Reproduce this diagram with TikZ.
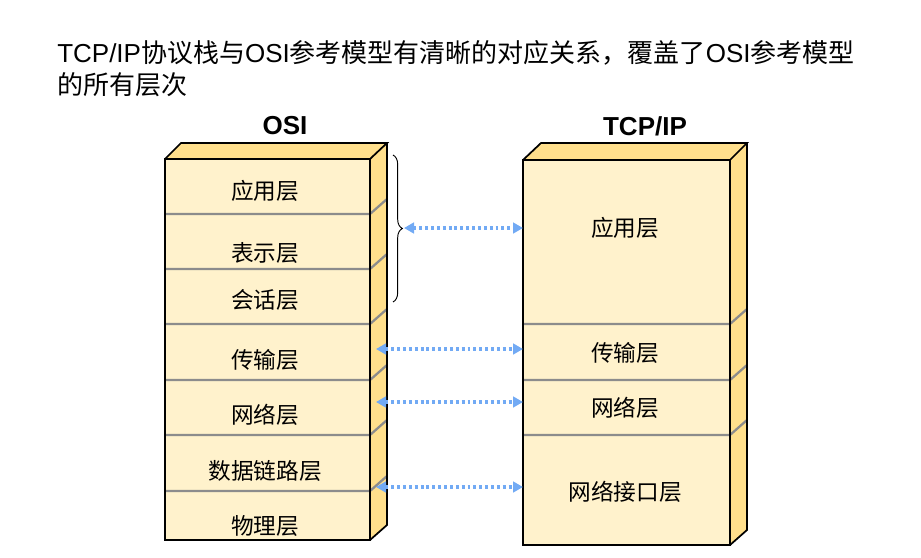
\documentclass[tikz,border=0pt]{standalone}
\usepackage{fontspec}
\setmainfont{Liberation Sans}
\newfontfamily\cjk{Noto Sans CJK SC}
\usetikzlibrary{arrows.meta,decorations.pathreplacing}
\definecolor{facec}{HTML}{FFF2CC}
\definecolor{sidec}{HTML}{FFDF8C}
\definecolor{linec}{HTML}{8C8C8C}
\definecolor{arrc}{HTML}{72AAF4}
\begin{document}
\begin{tikzpicture}[x=0.75pt,y=-0.75pt,
  outl/.style={draw=black,line width=1.3pt,line join=miter},
  sepline/.style={draw=linec,line width=1.7pt},
  lab/.style={font=\cjk\fontsize{17}{20}\selectfont,inner sep=0pt},
  ttl/.style={font=\bfseries\fontsize{19.5}{22}\selectfont,inner sep=0pt},
  hdr/.style={font=\fontsize{19.5}{22}\selectfont,inner sep=0pt,anchor=west},
  link/.style={draw=arrc,line width=2.4pt,dash pattern=on 2.2pt off 2.2pt,
    {Triangle[length=7.5pt,width=8pt]}-{Triangle[length=7.5pt,width=8pt]}}]
\useasboundingbox (0,0) rectangle (921,557);

% heading
\node[hdr] (h1) at (57,53) {TCP/IP{\cjk 协议栈与}OSI{\cjk 参考模型有清晰的对应关系，覆盖了}OSI{\cjk 参考模型}};
\node[hdr] (h2) at (57,85) {\cjk 的所有层次};

% titles
\node[ttl] (tosi) at (285,126) {OSI};
\node[ttl] (ttcp) at (645,126) {TCP/IP};

% OSI stack
\fill[facec] (165,159) rectangle (370,540);
\fill[sidec] (165,159) -- (181,143) -- (387,143) -- (370,159) -- cycle;
\fill[sidec] (370,159) -- (387,143) -- (387,525) -- (370,540) -- cycle;
\foreach \yy in {214,269,324,380,435,491}{
  \draw[sepline] (165,\yy) -- (370,\yy) -- (387,\yy-15);
}
\draw[outl] (165,159) rectangle (370,540);
\draw[outl] (165,159) -- (181,143) -- (387,143) -- (370,159);
\draw[outl] (387,143) -- (387,525) -- (370,540);

\node[lab] (o7) at (265,191) {应用层};
\node[lab] (o6) at (265,253) {表示层};
\node[lab] (o5) at (265,300) {会话层};
\node[lab] (o4) at (265,360) {传输层};
\node[lab] (o3) at (265,415) {网络层};
\node[lab] (o2) at (265,471) {数据链路层};
\node[lab] (o1) at (265,526) {物理层};

% TCP/IP stack
\fill[facec] (523,160) rectangle (730,545);
\fill[sidec] (523,160) -- (541,143) -- (747,143) -- (730,160) -- cycle;
\fill[sidec] (730,160) -- (747,143) -- (747,530) -- (730,545) -- cycle;
\foreach \yy in {324,380,435}{
  \draw[sepline] (523,\yy) -- (730,\yy) -- (747,\yy-15);
}
\draw[outl] (523,160) rectangle (730,545);
\draw[outl] (523,160) -- (541,143) -- (747,143) -- (730,160);
\draw[outl] (747,143) -- (747,530) -- (730,545);

\node[lab] (t4) at (625,228) {应用层};
\node[lab] (t3) at (625,353) {传输层};
\node[lab] (t2) at (625,408) {网络层};
\node[lab] (t1) at (625,492) {网络接口层};

% brace
\coordinate (bt) at (393,155);
\coordinate (bb) at (393,302);
\draw[line width=0.7pt,decorate,decoration={brace,amplitude=7pt}] (bt) -- (bb);

% connector end points
\coordinate (l4) at (404,228);
\coordinate (r4) at (523,228);
\coordinate (l3) at (376,349);
\coordinate (r3) at (523,349);
\coordinate (l2) at (376,402);
\coordinate (r2) at (523,402);
\coordinate (l1) at (376,487);
\coordinate (r1) at (523,487);
\draw[link] (l4) -- (r4);
\draw[link] (l3) -- (r3);
\draw[link] (l2) -- (r2);
\draw[link] (l1) -- (r1);
\end{tikzpicture}
\end{document}
